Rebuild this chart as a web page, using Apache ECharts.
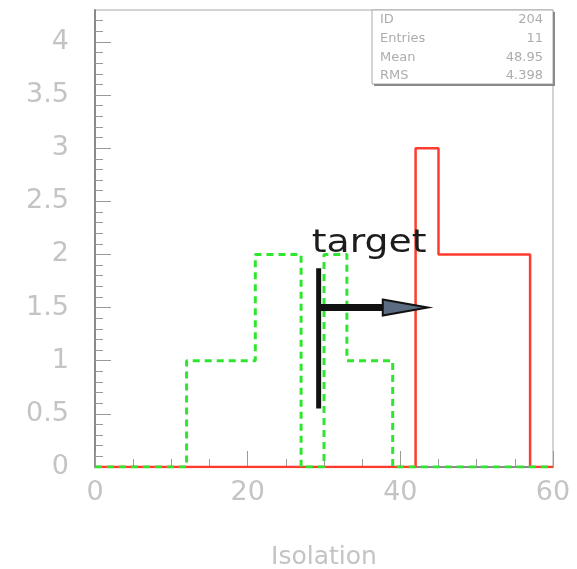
<!DOCTYPE html>
<html>
<head>
<meta charset="utf-8">
<script src="https://cdn.jsdelivr.net/npm/echarts@6/dist/echarts.min.js"></script>
<style>html,body{margin:0;padding:0;background:#fff}#c{width:577px;height:569px}</style>
</head>
<body>
<div id="c"></div>
<script>
// ---- data ----
const binStart = 0;
const binWidth = 3;
const redCounts   = [0,0,0,0,0,0,0,0,0,0,0,0,0,0,3,2,2,2,2,0];
const greenCounts = [0,0,0,0,1,1,1,2,2,0,2,1,1,0,0,0,0,0,0,0];
const xTicks = [0, 20, 40, 60];
const yTicks = [0, 0.5, 1, 1.5, 2, 2.5, 3, 3.5, 4];
const statsLabels = ['ID', 'Entries', 'Mean', 'RMS'];
const statsValues = ['204', '11', '48.95', '4.398'];
const annotationText = 'target';
const cutX = 29.3;          // vertical cut line position
const cutYRange = [0.55, 1.87];
const arrowY = 1.5;
const arrowHeadStart = 37.7;
const arrowTip = 43.6;
const textAnchor = [28.4, 2.1];

function stepPoints(counts) {
  const pts = [[binStart, 0]];
  counts.forEach((c, i) => {
    const lo = binStart + i * binWidth, hi = lo + binWidth;
    pts.push([lo, c], [hi, c]);
  });
  pts.push([binStart + counts.length * binWidth, 0]);
  return pts;
}

const chart = echarts.init(document.getElementById('c'), null, {renderer: 'canvas'});
const labelFont = '"DejaVu Sans", sans-serif';
const labelColor = '#c4c4c4';
const tickColor = '#9a9a9a';

const option = {
  animation: false,
  backgroundColor: '#fff',
  grid: {left: 95, right: 24, top: 10, bottom: 102, outerBoundsMode: 'none', containLabel: false,
         show: true, borderColor: '#a8a8a8', borderWidth: 1, backgroundColor: 'transparent'},
  xAxis: {
    type: 'value', min: xTicks[0], max: xTicks[xTicks.length - 1], interval: xTicks[1] - xTicks[0],
    axisLine: {show: true, lineStyle: {color: '#8a8a8a', width: 2}},
    axisTick: {show: true, inside: true, length: 16, lineStyle: {color: tickColor, width: 1}},
    minorTick: {show: true, splitNumber: 4, length: 8, lineStyle: {color: tickColor, width: 1}},
    axisLabel: {color: labelColor, fontSize: 27, fontFamily: labelFont, margin: 12},
    splitLine: {show: false},
    name: 'Isolation', nameLocation: 'middle', nameGap: 78,
    nameTextStyle: {color: labelColor, fontSize: 25, fontFamily: labelFont}
  },
  yAxis: [{
    type: 'value', min: 0, max: 4.3, interval: 0.1,
    axisLine: {show: true, lineStyle: {color: '#8a8a8a', width: 2}},
    axisTick: {show: true, inside: true, length: 8, lineStyle: {color: tickColor, width: 1}},
    axisLabel: {
      color: labelColor, fontSize: 27, fontFamily: labelFont, margin: 26,
      showMaxLabel: false,
      formatter: v => yTicks.some(t => Math.abs(t - v) < 1e-6) ? String(+v.toFixed(1)) : ''
    },
    splitLine: {show: false}
  }, {
    type: 'value', min: 0, max: 4.3, interval: 0.5, position: 'left',
    axisLine: {show: false},
    axisTick: {show: true, inside: true, length: 16, customValues: yTicks, lineStyle: {color: tickColor, width: 1}},
    axisLabel: {show: false},
    splitLine: {show: false}
  }],
  series: [{
    type: 'line', yAxisIndex: 0, data: stepPoints(redCounts), symbol: 'none',
    lineStyle: {color: '#ff3b2f', width: 2.5}, z: 3
  }, {
    type: 'line', yAxisIndex: 0, data: stepPoints(greenCounts), symbol: 'none',
    lineStyle: {color: '#2ee62e', width: 3, type: [7, 5]}, z: 4
  }]
};
chart.setOption(option);

function px(x, y) { return chart.convertToPixel({gridIndex: 0}, [x, y]); }
const vTop = px(cutX, cutYRange[1]), vBot = px(cutX, cutYRange[0]);
const shaft0 = px(cutX, arrowY), head0 = px(arrowHeadStart, arrowY), tip = px(arrowTip, arrowY);
const tp = px(textAnchor[0], textAnchor[1]);

const graphics = [
  {type: 'line', shape: {x1: shaft0[0], y1: shaft0[1], x2: head0[0] + 2, y2: head0[1]}, style: {stroke: '#111', lineWidth: 7}, z: 10},
  {type: 'polygon', shape: {points: [[head0[0], head0[1] - 8], [tip[0], tip[1]], [head0[0], head0[1] + 8]]}, style: {fill: '#5c6c80', stroke: '#111', lineWidth: 2}, z: 11},
  {type: 'line', shape: {x1: vTop[0], y1: vTop[1], x2: vBot[0], y2: vBot[1]}, style: {stroke: '#111', lineWidth: 5}, z: 12},
  {type: 'text', x: tp[0], y: tp[1], scaleX: 1.18, style: {text: annotationText, fill: '#1c1c1c', font: '32px "DejaVu Sans", sans-serif', textAlign: 'left', textVerticalAlign: 'middle'}, z: 13},
  // stats box
  {type: 'rect', shape: {x: 372, y: 10, width: 181, height: 74}, style: {fill: '#fff', stroke: '#aaa', lineWidth: 1}, z: 20},
  {type: 'line', shape: {x1: 374, y1: 85, x2: 554, y2: 85}, style: {stroke: '#8a8a8a', lineWidth: 2}, z: 21},
  {type: 'line', shape: {x1: 554, y1: 12, x2: 554, y2: 86}, style: {stroke: '#8a8a8a', lineWidth: 2}, z: 21}
];
statsLabels.forEach((s, i) => {
  const y = 20 + i * 18.7;
  graphics.push({type: 'text', x: 380, y: y, style: {text: s, fill: '#adadad', font: '13px "DejaVu Sans", sans-serif', textAlign: 'left', textVerticalAlign: 'middle'}, z: 22});
  graphics.push({type: 'text', x: 543, y: y, style: {text: statsValues[i], fill: '#adadad', font: '13px "DejaVu Sans", sans-serif', textAlign: 'right', textVerticalAlign: 'middle'}, z: 22});
});
chart.setOption({graphic: graphics});
</script>
</body>
</html>
